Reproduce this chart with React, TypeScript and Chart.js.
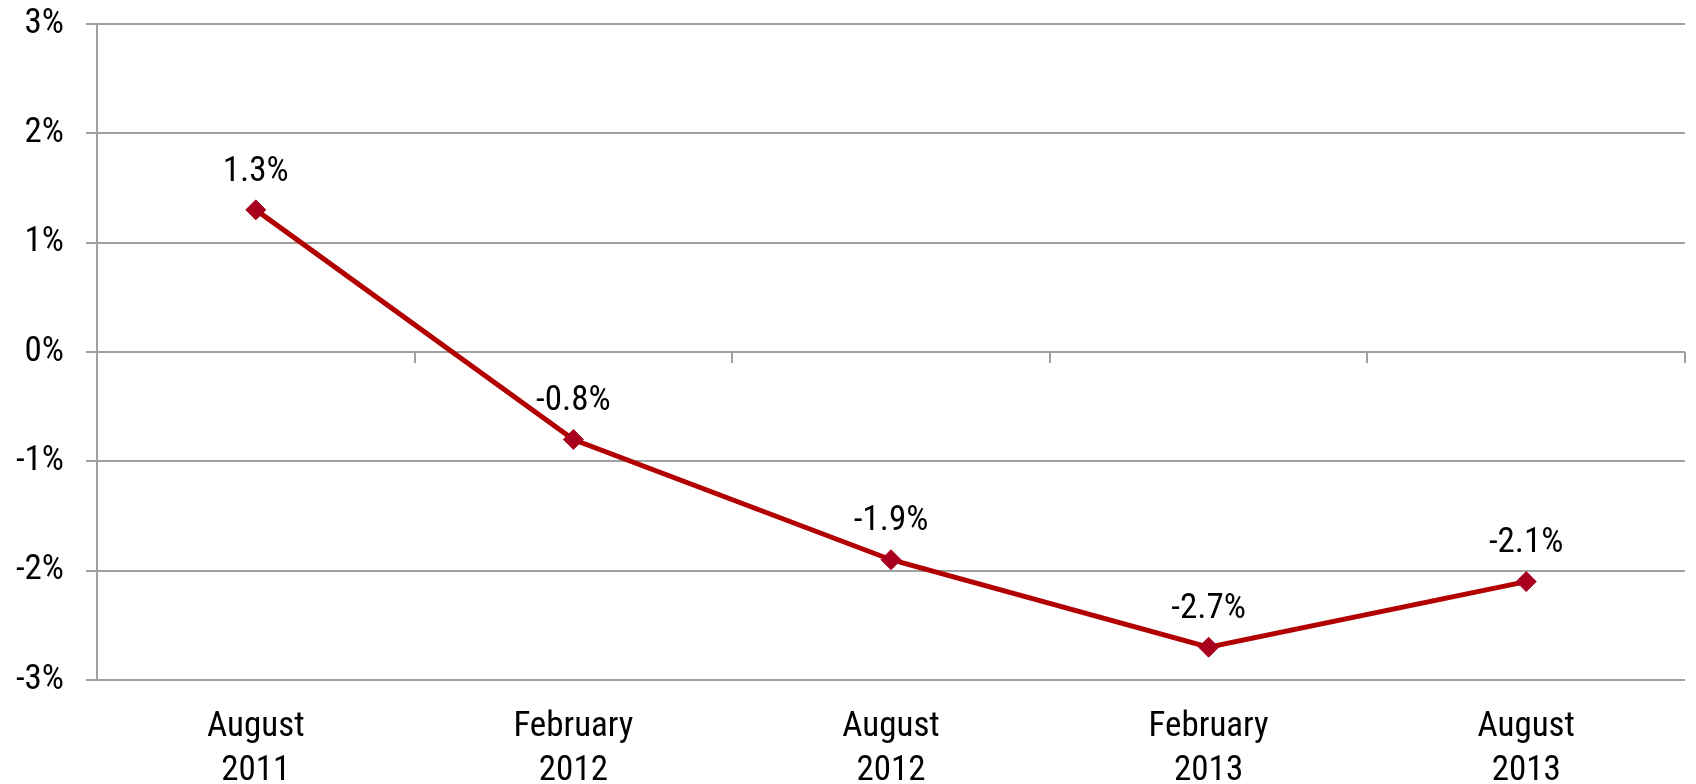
import React, { useEffect, useRef } from "react";
import { Chart, registerables } from "chart.js";

Chart.register(...registerables);

const categories: string[][] = [
  ["August", "2011"],
  ["February", "2012"],
  ["August", "2012"],
  ["February", "2013"],
  ["August", "2013"],
];
const values: number[] = [1.3, -0.8, -1.9, -2.7, -2.1];
const yMin = -3;
const yMax = 3;
const yStep = 1;

const FONT = "'Roboto Condensed', 'Liberation Sans', sans-serif";
const GRID = "#a0a0a0";

const zeroTicksPlugin = {
  id: "zeroTicks",
  afterDatasetsDraw(chart: any) {
    const { ctx, scales } = chart;
    const x = scales.x;
    const y = scales.y;
    const y0 = Math.round(y.getPixelForValue(0));
    const n = categories.length;
    const half = (x.getPixelForValue(1) - x.getPixelForValue(0)) / 2;
    ctx.save();
    ctx.strokeStyle = GRID;
    ctx.lineWidth = 2;
    for (let i = 0; i <= n; i++) {
      const px = Math.round(x.getPixelForValue(i) - half);
      ctx.beginPath();
      ctx.moveTo(px, y0);
      ctx.lineTo(px, y0 + 11);
      ctx.stroke();
    }
    ctx.restore();
  },
};

const labelPlugin = {
  id: "valueLabels",
  afterDatasetsDraw(chart: any) {
    const { ctx } = chart;
    const meta = chart.getDatasetMeta(0);
    ctx.save();
    ctx.font = `35px ${FONT}`;
    ctx.fillStyle = "#000";
    ctx.textAlign = "center";
    ctx.textBaseline = "middle";
    meta.data.forEach((pt: any, i: number) => {
      ctx.fillText(values[i].toFixed(1) + "%", pt.x, pt.y - 38);
    });
    ctx.restore();
  },
};

export default function App() {
  const ref = useRef<HTMLCanvasElement>(null);
  useEffect(() => {
    document.body.style.margin = "0";
    const chart = new Chart(ref.current!, {
      type: "line",
      data: {
        labels: categories,
        datasets: [
          {
            data: values,
            borderColor: "#b20000",
            borderWidth: 5,
            pointStyle: "rectRot",
            pointRadius: 10,
            pointBackgroundColor: "#a8001e",
            pointBorderColor: "#a8001e",
            pointBorderWidth: 1,
            tension: 0,
          },
        ],
      },
      options: {
        responsive: false,
        animation: false,
        layout: { padding: { top: 24, right: 4, left: 0, bottom: 0 } },
        plugins: { legend: { display: false }, tooltip: { enabled: false } },
        scales: {
          x: {
            type: "category",
            offset: true,
            grid: { display: false },
            border: { display: false },
            ticks: {
              color: "#000",
              font: { family: FONT, size: 35, lineHeight: 1.24 },
              padding: 18,
              maxRotation: 0,
              autoSkip: false,
            },
            afterFit: (s: any) => {
              s.height = 104;
              s.paddingLeft = 0;
              s.paddingRight = 0;
            },
          },
          y: {
            min: yMin,
            max: yMax,
            grid: {
              color: GRID,
              lineWidth: 2,
              drawTicks: true,
              tickLength: 11,
              tickColor: GRID,
            },
            border: { display: true, color: GRID, width: 2 },
            ticks: {
              stepSize: yStep,
              color: "#000",
              padding: 22,
              font: { family: FONT, size: 35 },
              callback: (v: any) => `${v}%`,
            },
            afterFit: (s: any) => {
              s.width = 97;
              s.paddingTop = 0;
              s.paddingBottom = 0;
            },
          },
        },
      },
      plugins: [zeroTicksPlugin, labelPlugin],
    });
    return () => chart.destroy();
  }, []);
  return (
    <div style={{ position: "fixed", left: 0, top: 0, width: 1696, height: 784 }}>
      <canvas ref={ref} width={1696} height={784} style={{ width: 1696, height: 784 }} />
    </div>
  );
}
